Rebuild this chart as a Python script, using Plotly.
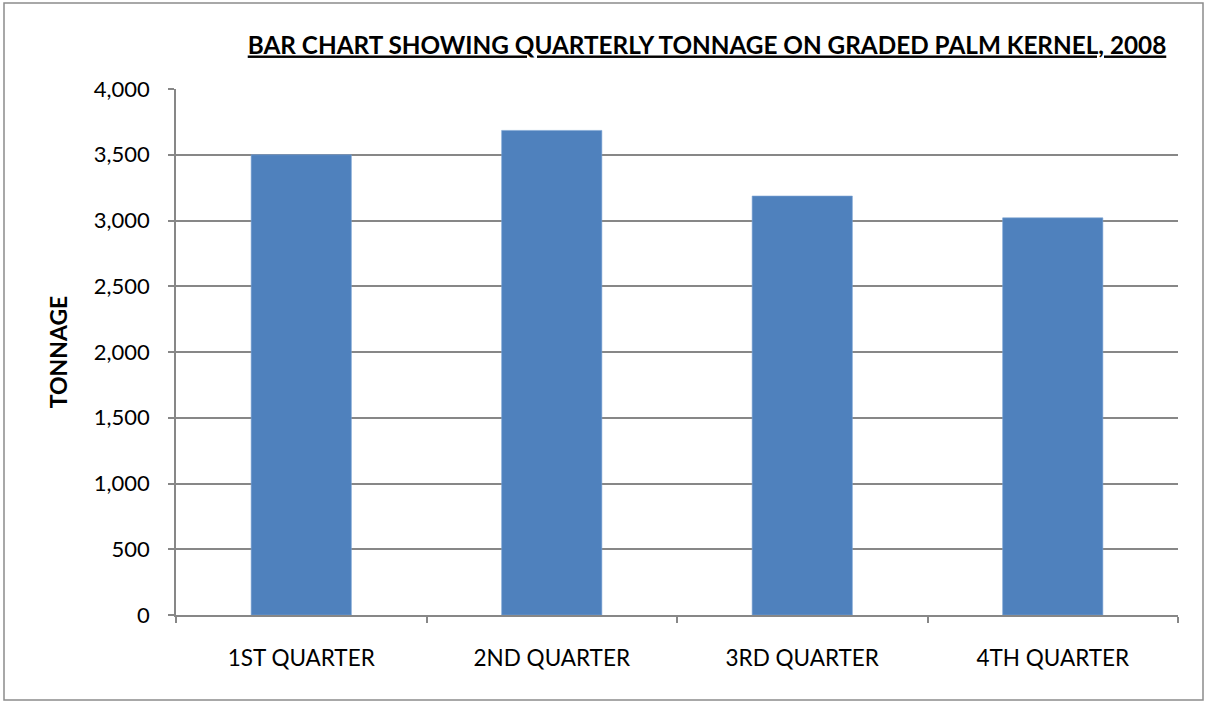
import plotly.graph_objects as go

categories = ["1ST QUARTER", "2ND QUARTER", "3RD QUARTER", "4TH QUARTER"]
tonnage = [3500, 3685, 3186, 3020]
y_ticks = [0, 500, 1000, 1500, 2000, 2500, 3000, 3500, 4000]
title_text = "BAR CHART SHOWING QUARTERLY TONNAGE ON GRADED PALM KERNEL, 2008"
y_title = "TONNAGE"

FONT = "Lato, Liberation Sans, sans-serif"
GRID = "#878787"

fig = go.Figure(
    go.Bar(x=categories, y=tonnage, marker=dict(color="#4F81BD", line=dict(color="#7aa3d4", width=0.6)))
)

fig.update_layout(
    width=1208, height=702,
    margin=dict(l=176, r=30, t=89, b=87),
    paper_bgcolor="white", plot_bgcolor="white",
    bargap=0.6,
    showlegend=False,
    font=dict(family=FONT, size=22, color="black"),
    title=dict(text="<b><u>" + title_text + "</u></b>", x=707 / 1208, xanchor="center",
               y=1 - 45 / 702, yanchor="middle", font=dict(family=FONT, size=24.3, color="black")),
)

fig.update_xaxes(
    showline=True, linecolor=GRID, linewidth=1.5,
    ticks="outside", tickson="boundaries", ticklen=6, tickcolor=GRID, tickwidth=1.5,
    tickfont=dict(size=22.5), showgrid=False, ticklabelstandoff=22,
)
fig.update_yaxes(
    range=[0, 4000], tickvals=y_ticks, tickformat=",d",
    showline=True, linecolor=GRID, linewidth=1.5,
    ticks="outside", ticklen=6, tickcolor=GRID, tickwidth=1.5,
    showgrid=True, gridcolor=GRID, gridwidth=1.5, zeroline=False,
    tickfont=dict(size=22), ticklabelstandoff=14,
    title=dict(text="<b>" + y_title + "</b>", standoff=20, font=dict(size=23)),
)

fig.add_shape(type="rect", xref="paper", yref="paper",
              x0=(4 - 176) / 1002, x1=(1203 - 176) / 1002,
              y0=(615 - 700) / 526, y1=(615 - 3) / 526,
              line=dict(color="#8c8c8c", width=1.5), fillcolor="rgba(0,0,0,0)", layer="below")

fig.write_html("out.html", config={"displayModeBar": False},
               post_script="document.body.style.margin='0';")
